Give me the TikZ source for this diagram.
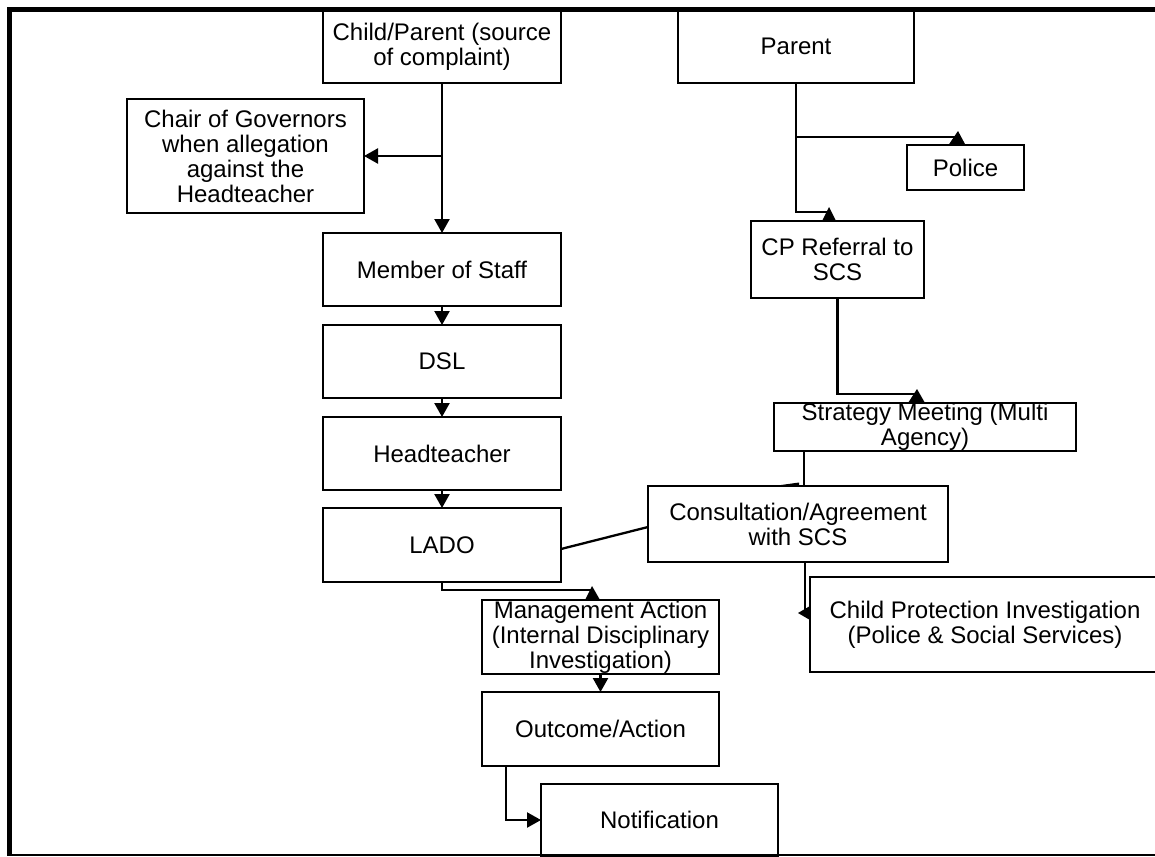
\documentclass[tikz,border=0pt]{standalone}
\usepackage{fontspec}
\setmainfont{Liberation Sans}
\usetikzlibrary{arrows.meta,calc}
\begin{document}
\begin{tikzpicture}[x=1pt,y=-1pt,
  box/.style={draw,line width=2.5pt,rectangle,inner sep=0pt,outer sep=0pt,align=center,font=\fontsize{24}{25}\selectfont},
  conn/.style={line width=2.3pt},
  arr/.style={conn,-{Triangle[width=15pt,length=14pt]}}]
\useasboundingbox (0,0) rectangle (1155,856);
\clip (0,0) rectangle (1155,856);
% left column
\node[box,minimum width=238pt,minimum height=73pt] (cp) at (442,46.5) {Child/Parent (source\\of complaint)};
\node[box,minimum width=237pt,minimum height=114pt] (chair) at (245.5,156) {Chair of Governors\\when allegation\\against the\\Headteacher};
\node[box,minimum width=238pt,minimum height=73pt] (mos) at (442,269.5) {Member of Staff};
\node[box,minimum width=238pt,minimum height=73pt] (dsl) at (442,361.5) {DSL};
\node[box,minimum width=238pt,minimum height=73pt] (head) at (442,453.5) {Headteacher};
\node[box,minimum width=238pt,minimum height=74pt] (lado) at (442,545) {LADO};
\node[box,minimum width=237pt,minimum height=74pt] (ma) at (600.5,637) {Management Action\\(Internal Disciplinary\\Investigation)};
\node[box,minimum width=237pt,minimum height=74pt] (out) at (600.5,729) {Outcome/Action};
\node[box,minimum width=237pt,minimum height=72pt] (notif) at (659.5,820) {Notification};
% right column
\node[box,minimum width=236pt,minimum height=73pt] (parent) at (796,46.5) {Parent};
\node[box,minimum width=117pt,minimum height=45pt] (police) at (965.5,167.5) {Police};
\node[box,minimum width=173pt,minimum height=77pt] (cpref) at (837.5,259.5) {CP Referral to\\SCS};
\node[box,minimum width=302pt,minimum height=48pt] (strat) at (925,427) {Strategy Meeting (Multi\\Agency)};
\node[box,minimum width=300pt,minimum height=76pt] (consult) at (798,524) {Consultation/Agreement\\with SCS};
\node[box,minimum width=350pt,minimum height=95pt] (cpi) at (985,624.5) {Child Protection Investigation\\(Police \& Social Services)};
% left connectors
\coordinate (brC) at (cp.south |- chair.east);
\draw[arr] (cp.south) -- (mos.north);
\draw[arr] (brC) -- (chair.east);
\draw[arr] (mos.south) -- (dsl.north);
\draw[arr] (dsl.south) -- (head.north);
\draw[arr] (head.south) -- (lado.north);
\draw[conn] (lado.south) |- ($(ma.north west)+(110,-10)$);
\fill ($(ma.north west)+(103,0)$) -- ($(ma.north west)+(118,0)$) -- ($(ma.north west)+(110,-14)$) -- cycle;
\draw[arr] (ma.south) -- (out.north);
\draw[arr] ($(out.south west)+(24,0)$) |- (notif.west);
\draw[conn] ($(lado.east)+(0,4)$) -- ($(consult.west)+(0,3)$);
% right connectors
\coordinate (brP) at ($(parent.south)+(0,54)$);
\draw[conn] (parent.south) |- ($(cpref.north)+(-8.5,-9)$);
\fill ($(cpref.north)+(-15.5,0)$) -- ($(cpref.north)+(-1.5,0)$) -- ($(cpref.north)+(-8.5,-14)$) -- cycle;
\draw[conn] (brP) -- ($(police.north)+(-7.5,-8)$);
\fill ($(police.north)+(-17,0)$) -- ($(police.north)+(0,0)$) -- ($(police.north)+(-7.5,-14)$) -- cycle;
\draw[conn] (cpref.south) |- ($(strat.north west)+(143,-9)$);
\fill ($(strat.north west)+(134,0)$) -- ($(strat.north west)+(151,0)$) -- ($(strat.north west)+(143,-14)$) -- cycle;
\draw[conn] ($(strat.south west)+(30,0)$) -- ($(consult.north west)+(156,0)$);
\fill ($(consult.north west)+(133,-1)$) -- ($(consult.north west)+(151,-3.5)$) -- ($(consult.north west)+(151,0)$) -- cycle;
\draw[conn] ($(consult.south west)+(157,0)$) -- ($(cpi.west)+(-5,-11.5)$);
\fill ($(cpi.west)+(-12,-11.5)$) -- ($(cpi.west)+(0,-18.5)$) -- ($(cpi.west)+(0,-4.5)$) -- cycle;
% frame
\draw[line width=5pt] (1155,9.5) -- (9.5,9.5) -- (9.5,855);
\draw[line width=2pt] (7,854.5) -- (1155,854.5);
\end{tikzpicture}
\end{document}
